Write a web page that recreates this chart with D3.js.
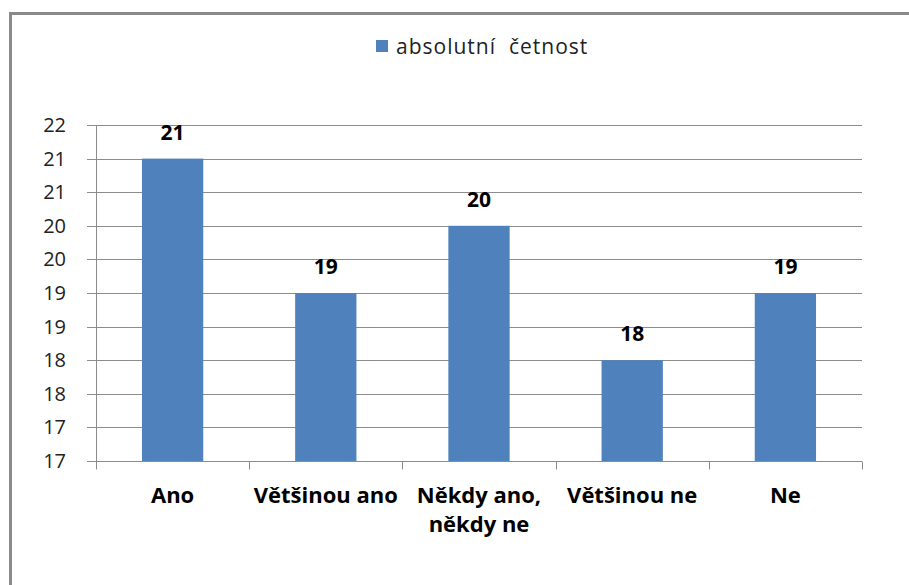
<!DOCTYPE html>
<html>
<head>
<meta charset="utf-8">
<script src="https://cdn.jsdelivr.net/npm/d3@7"></script>
<style>
  body { margin: 0; background: #fff; }
  text { font-family: "Open Sans", Lato, sans-serif; }
</style>
</head>
<body>
<svg width="909" height="585"></svg>
<script>
let width = 909,
    height = 585;

let categories = ["Ano", "Většinou ano", "Někdy ano,|někdy ne", "Většinou ne", "Ne"];
let values = [21, 19, 20, 18, 19];
let tickValues = [16.5, 17, 17.5, 18, 18.5, 19, 19.5, 20, 20.5, 21, 21.5];
let tickLabels = ["17", "17", "18", "18", "19", "19", "20", "20", "21", "21", "22"];
let seriesName = "absolutní  četnost";

let margin = {left: 96, right: 47, top: 125, bottom: 124},
    barColor = "#4f81bd",
    gridColor = "#8c8c8c";

let svg = d3.select("svg");

// outer frame (top and left visible)
svg.append("path")
    .attr("d", `M10.5,${height} V13.5 H${width}`)
    .attr("fill", "none")
    .attr("stroke", "#8a8a8a")
    .attr("stroke-width", 3);

let x = d3.scaleBand()
    .domain(categories)
    .range([margin.left, width - margin.right])
    .paddingInner(0.6)
    .paddingOuter(0.3);

let xOuter = d3.scaleBand()
    .domain(categories)
    .range([margin.left, width - margin.right]);

let y = d3.scaleLinear()
    .domain([16.5, 21.5])
    .range([height - margin.bottom, margin.top]);

// gridlines
svg.append("g")
    .selectAll("line")
    .data(tickValues)
    .join("line")
    .attr("x1", margin.left - 9)
    .attr("x2", width - margin.right)
    .attr("y1", d => Math.round(y(d)) + 0.5)
    .attr("y2", d => Math.round(y(d)) + 0.5)
    .attr("stroke", gridColor)
    .attr("stroke-width", 1);

// y labels
svg.append("g")
    .selectAll("text")
    .data(tickValues)
    .join("text")
    .attr("x", 66)
    .attr("y", d => y(d) + 7)
    .attr("text-anchor", "end")
    .attr("font-size", 20)
    .attr("fill", "#222")
    .text((d, i) => tickLabels[i]);

// y axis line
svg.append("line")
    .attr("x1", margin.left + 0.5)
    .attr("x2", margin.left + 0.5)
    .attr("y1", margin.top)
    .attr("y2", height - margin.bottom)
    .attr("stroke", gridColor);

// bars
svg.append("g")
    .selectAll("rect")
    .data(values)
    .join("rect")
    .attr("x", (d, i) => x(categories[i]))
    .attr("width", x.bandwidth())
    .attr("y", d => y(d))
    .attr("height", d => y(16.5) - y(d))
    .attr("fill", barColor);

// x axis line and ticks
let xBase = Math.round(y(16.5)) + 0.5;
svg.append("line")
    .attr("x1", margin.left)
    .attr("x2", width - margin.right)
    .attr("y1", xBase)
    .attr("y2", xBase)
    .attr("stroke", gridColor);

let tickXs = categories.map(c => xOuter(c)).concat([width - margin.right]);
svg.append("g")
    .selectAll("line")
    .data(tickXs)
    .join("line")
    .attr("x1", d => Math.round(d) + 0.5)
    .attr("x2", d => Math.round(d) + 0.5)
    .attr("y1", xBase)
    .attr("y2", xBase + 8)
    .attr("stroke", gridColor);

// value labels
svg.append("g")
    .selectAll("text")
    .data(values)
    .join("text")
    .attr("x", (d, i) => x(categories[i]) + x.bandwidth() / 2)
    .attr("y", d => y(d) - 19)
    .attr("text-anchor", "middle")
    .attr("font-size", 21)
    .attr("font-weight", "bold")
    .attr("fill", "#000")
    .text(d => d);

// category labels
let catLabels = svg.append("g")
    .selectAll("text")
    .data(categories)
    .join("text")
    .attr("x", d => xOuter(d) + xOuter.bandwidth() / 2)
    .attr("y", 503)
    .attr("text-anchor", "middle")
    .attr("font-size", 22)
    .attr("font-weight", "bold")
    .attr("fill", "#000");

catLabels.selectAll("tspan")
    .data(d => d.split("|"))
    .join("tspan")
    .attr("x", function () { return d3.select(this.parentNode).attr("x"); })
    .attr("dy", (d, i) => i === 0 ? 0 : 29)
    .text(d => d);

// legend
svg.append("rect")
    .attr("x", 376)
    .attr("y", 40)
    .attr("width", 12)
    .attr("height", 12)
    .attr("fill", barColor);

svg.append("text")
    .attr("x", 396)
    .attr("y", 54)
    .attr("font-size", 21)
    .attr("letter-spacing", 1)
    .attr("fill", "#222")
    .attr("xml:space", "preserve")
    .text(seriesName);
</script>
</body>
</html>
